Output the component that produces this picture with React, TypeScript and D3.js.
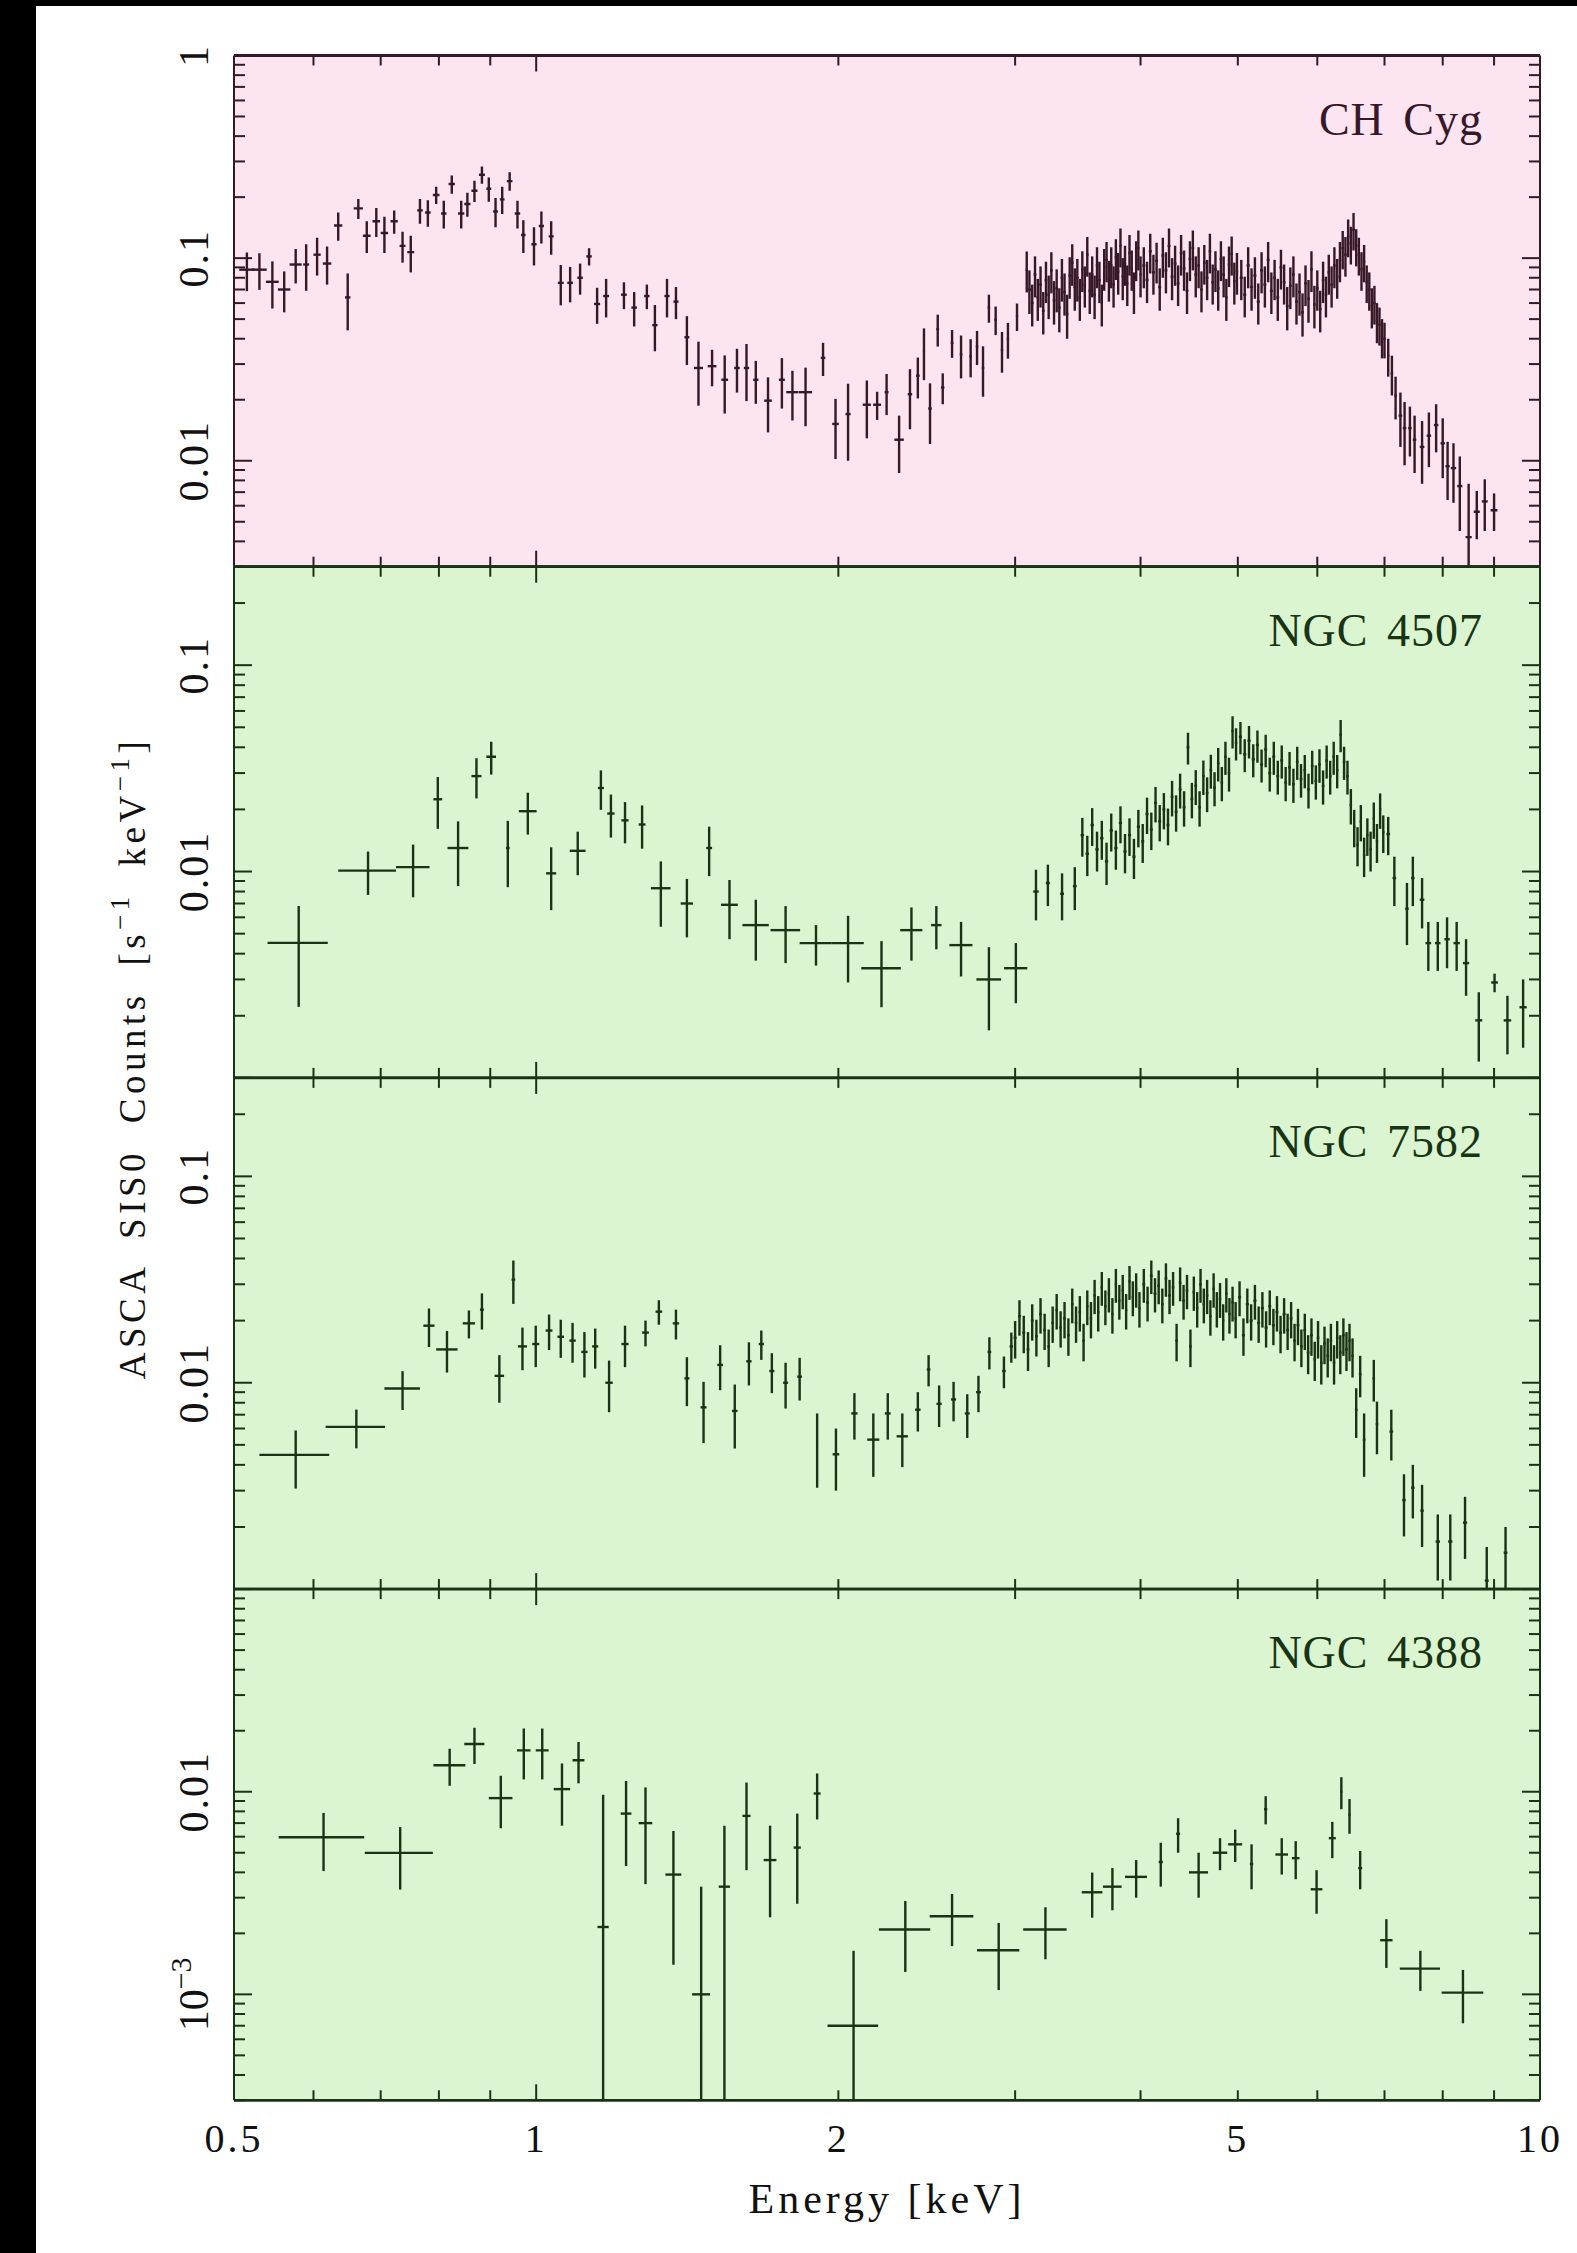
import React from 'react';
import * as d3 from 'd3';

// Each bin: [energy keV, half bin width keV, count rate s^-1 keV^-1, 1-sigma error]
type Bin = [number, number, number, number];

const chCyg: Bin[] = [
  [0.515, 0.009, 0.0877, 0.019], [0.530, 0.009, 0.0877, 0.018], [0.546, 0.008, 0.0764, 0.020],
  [0.561, 0.008, 0.0700, 0.016], [0.576, 0.008, 0.0930, 0.018], [0.590, 0.004, 0.0930, 0.024],
  [0.605, 0.005, 0.1040, 0.022], [0.619, 0.006, 0.0940, 0.020], [0.635, 0.006, 0.1450, 0.023],
  [0.649, 0.004, 0.0640, 0.020], [0.665, 0.007, 0.1760, 0.020], [0.678, 0.006, 0.1290, 0.023],
  [0.693, 0.006, 0.1520, 0.025], [0.706, 0.006, 0.1330, 0.027], [0.722, 0.006, 0.1520, 0.020],
  [0.736, 0.005, 0.1150, 0.020], [0.750, 0.006, 0.1070, 0.022], [0.766, 0.005, 0.1720, 0.024],
  [0.780, 0.005, 0.1680, 0.025], [0.795, 0.006, 0.2050, 0.020], [0.809, 0.005, 0.1660, 0.026],
  [0.824, 0.006, 0.2320, 0.024], [0.842, 0.006, 0.1660, 0.026], [0.854, 0.006, 0.1850, 0.025],
  [0.868, 0.006, 0.2150, 0.026], [0.883, 0.006, 0.2580, 0.025], [0.897, 0.005, 0.2200, 0.030],
  [0.911, 0.005, 0.1700, 0.028], [0.925, 0.005, 0.1950, 0.030], [0.941, 0.006, 0.2400, 0.025],
  [0.958, 0.006, 0.1660, 0.026], [0.971, 0.005, 0.1300, 0.024], [0.995, 0.006, 0.1170, 0.025],
  [1.012, 0.006, 0.1440, 0.026], [1.035, 0.006, 0.1280, 0.024], [1.058, 0.007, 0.0755, 0.017],
  [1.081, 0.007, 0.0755, 0.015], [1.106, 0.007, 0.0800, 0.014], [1.129, 0.007, 0.1020, 0.010],
  [1.150, 0.008, 0.0594, 0.012], [1.174, 0.008, 0.0650, 0.014], [1.223, 0.008, 0.0660, 0.010],
  [1.252, 0.008, 0.0570, 0.011], [1.289, 0.008, 0.0650, 0.009], [1.313, 0.008, 0.0467, 0.012],
  [1.350, 0.008, 0.0650, 0.014], [1.378, 0.008, 0.0610, 0.011], [1.413, 0.008, 0.0407, 0.011],
  [1.451, 0.015, 0.0287, 0.010], [1.497, 0.015, 0.0293, 0.006], [1.541, 0.012, 0.0251, 0.008],
  [1.585, 0.010, 0.0287, 0.007], [1.620, 0.010, 0.0287, 0.009], [1.655, 0.010, 0.0251, 0.006],
  [1.702, 0.015, 0.0198, 0.006], [1.757, 0.012, 0.0251, 0.007], [1.800, 0.025, 0.0218, 0.006],
  [1.855, 0.028, 0.0218, 0.007], [1.931, 0.010, 0.0322, 0.006], [1.987, 0.015, 0.0152, 0.005],
  [2.045, 0.012, 0.0170, 0.007], [2.135, 0.020, 0.0189, 0.006], [2.186, 0.020, 0.0189, 0.003],
  [2.234, 0.010, 0.0218, 0.005], [2.299, 0.025, 0.0127, 0.004], [2.357, 0.012, 0.0213, 0.007],
  [2.400, 0.010, 0.0263, 0.006], [2.434, 0.006, 0.0350, 0.010], [2.468, 0.010, 0.0181, 0.006],
  [2.512, 0.008, 0.0446, 0.008], [2.541, 0.010, 0.0230, 0.004], [2.596, 0.008, 0.0382, 0.006],
  [2.650, 0.008, 0.0335, 0.008], [2.709, 0.008, 0.0328, 0.007], [2.749, 0.008, 0.0367, 0.007],
  [2.787, 0.008, 0.0287, 0.008], [2.825, 0.008, 0.0570, 0.009], [2.869, 0.008, 0.0497, 0.008],
  [2.911, 0.008, 0.0352, 0.008], [2.951, 0.008, 0.0399, 0.008], [3.013, 0.008, 0.0517, 0.008],
  [3.081, 0.008, 0.0877, 0.020],
  [3.10, 0.010, 0.070, 0.017], [3.12, 0.010, 0.060, 0.014], [3.14, 0.010, 0.083, 0.019],
  [3.16, 0.010, 0.064, 0.015], [3.18, 0.010, 0.074, 0.017], [3.20, 0.010, 0.055, 0.013],
  [3.22, 0.010, 0.078, 0.018], [3.24, 0.010, 0.066, 0.016], [3.26, 0.010, 0.087, 0.020],
  [3.28, 0.010, 0.062, 0.015], [3.30, 0.010, 0.071, 0.017], [3.32, 0.010, 0.057, 0.014],
  [3.34, 0.010, 0.080, 0.019], [3.36, 0.010, 0.068, 0.016], [3.38, 0.010, 0.053, 0.013],
  [3.40, 0.010, 0.082, 0.019], [3.42, 0.010, 0.095, 0.022], [3.44, 0.010, 0.072, 0.017],
  [3.46, 0.010, 0.080, 0.019], [3.48, 0.010, 0.064, 0.015], [3.50, 0.010, 0.088, 0.020],
  [3.52, 0.010, 0.074, 0.017], [3.54, 0.010, 0.104, 0.023], [3.56, 0.010, 0.069, 0.016],
  [3.58, 0.010, 0.083, 0.019], [3.60, 0.010, 0.066, 0.016], [3.62, 0.010, 0.092, 0.021],
  [3.64, 0.010, 0.078, 0.018], [3.66, 0.010, 0.060, 0.014], [3.68, 0.010, 0.090, 0.021],
  [3.70, 0.010, 0.098, 0.022], [3.72, 0.010, 0.079, 0.018], [3.74, 0.010, 0.092, 0.021],
  [3.76, 0.010, 0.074, 0.017], [3.78, 0.010, 0.101, 0.023], [3.80, 0.010, 0.086, 0.020],
  [3.82, 0.010, 0.115, 0.025], [3.84, 0.010, 0.081, 0.019], [3.86, 0.010, 0.094, 0.021],
  [3.88, 0.010, 0.075, 0.017], [3.90, 0.010, 0.106, 0.024], [3.92, 0.010, 0.089, 0.020],
  [3.94, 0.010, 0.069, 0.016], [3.96, 0.010, 0.099, 0.022], [3.98, 0.010, 0.112, 0.025],
  [4.00, 0.010, 0.083, 0.019], [4.03, 0.014, 0.092, 0.021], [4.06, 0.014, 0.078, 0.018],
  [4.09, 0.014, 0.108, 0.024], [4.12, 0.014, 0.085, 0.019], [4.15, 0.014, 0.097, 0.022],
  [4.18, 0.014, 0.072, 0.017], [4.21, 0.014, 0.103, 0.023], [4.24, 0.014, 0.087, 0.020],
  [4.27, 0.014, 0.115, 0.025], [4.30, 0.014, 0.081, 0.019], [4.33, 0.014, 0.094, 0.021],
  [4.36, 0.014, 0.075, 0.017], [4.39, 0.014, 0.106, 0.024], [4.42, 0.014, 0.089, 0.020],
  [4.45, 0.014, 0.069, 0.016], [4.48, 0.014, 0.099, 0.022], [4.51, 0.014, 0.112, 0.025],
  [4.54, 0.014, 0.083, 0.019], [4.57, 0.014, 0.092, 0.021], [4.60, 0.014, 0.070, 0.016],
  [4.63, 0.014, 0.095, 0.021], [4.66, 0.014, 0.080, 0.018], [4.69, 0.014, 0.108, 0.024],
  [4.72, 0.014, 0.076, 0.017], [4.75, 0.014, 0.088, 0.020], [4.78, 0.014, 0.071, 0.016],
  [4.81, 0.014, 0.099, 0.022], [4.84, 0.014, 0.083, 0.019], [4.87, 0.014, 0.064, 0.015],
  [4.90, 0.014, 0.093, 0.021], [4.93, 0.014, 0.105, 0.023], [4.96, 0.014, 0.077, 0.018],
  [4.99, 0.014, 0.086, 0.020], [5.04, 0.018, 0.080, 0.018], [5.08, 0.018, 0.066, 0.015],
  [5.12, 0.018, 0.092, 0.021], [5.16, 0.018, 0.072, 0.017], [5.20, 0.018, 0.082, 0.019],
  [5.24, 0.018, 0.061, 0.014], [5.28, 0.018, 0.087, 0.020], [5.32, 0.018, 0.074, 0.017],
  [5.36, 0.018, 0.098, 0.022], [5.40, 0.018, 0.069, 0.016], [5.44, 0.018, 0.080, 0.018],
  [5.48, 0.018, 0.064, 0.015], [5.52, 0.018, 0.090, 0.020], [5.56, 0.018, 0.076, 0.017],
  [5.60, 0.018, 0.058, 0.014], [5.64, 0.018, 0.073, 0.017], [5.68, 0.018, 0.083, 0.019],
  [5.72, 0.018, 0.061, 0.014], [5.76, 0.018, 0.068, 0.016], [5.80, 0.018, 0.054, 0.013],
  [5.84, 0.018, 0.075, 0.017], [5.88, 0.018, 0.063, 0.015], [5.92, 0.018, 0.088, 0.020],
  [5.96, 0.018, 0.059, 0.014], [6.00, 0.018, 0.071, 0.016], [6.04, 0.018, 0.056, 0.013],
  [6.08, 0.018, 0.078, 0.018], [6.12, 0.018, 0.066, 0.015], [6.16, 0.018, 0.085, 0.019],
  [6.20, 0.018, 0.074, 0.017], [6.24, 0.018, 0.092, 0.021], [6.28, 0.018, 0.081, 0.018],
  [6.32, 0.018, 0.098, 0.022], [6.36, 0.018, 0.112, 0.024], [6.40, 0.018, 0.104, 0.023],
  [6.44, 0.018, 0.128, 0.027], [6.48, 0.018, 0.118, 0.025], [6.52, 0.018, 0.138, 0.029],
  [6.56, 0.018, 0.115, 0.024], [6.60, 0.018, 0.104, 0.022], [6.64, 0.018, 0.088, 0.019],
  [6.68, 0.018, 0.096, 0.020], [6.72, 0.018, 0.076, 0.016], [6.76, 0.018, 0.070, 0.015],
  [6.80, 0.018, 0.058, 0.013], [6.84, 0.018, 0.060, 0.013], [6.88, 0.018, 0.049, 0.011],
  [6.92, 0.018, 0.047, 0.010], [6.96, 0.018, 0.041, 0.009],
  [7.00, 0.020, 0.0400, 0.008], [7.06, 0.020, 0.0330, 0.007], [7.12, 0.020, 0.0270, 0.006],
  [7.18, 0.020, 0.0210, 0.005], [7.26, 0.030, 0.0167, 0.005], [7.33, 0.030, 0.0145, 0.005],
  [7.42, 0.030, 0.0145, 0.004], [7.50, 0.030, 0.0127, 0.004], [7.63, 0.040, 0.0117, 0.004],
  [7.75, 0.040, 0.0133, 0.004], [7.88, 0.040, 0.0150, 0.004], [8.00, 0.040, 0.0122, 0.004],
  [8.09, 0.040, 0.0094, 0.003], [8.20, 0.050, 0.0092, 0.003], [8.32, 0.050, 0.0075, 0.003],
  [8.49, 0.060, 0.0042, 0.0035], [8.65, 0.060, 0.0056, 0.0015], [8.81, 0.060, 0.0063, 0.0018],
  [9.00, 0.070, 0.0057, 0.0012],
];

const ngc4507: Bin[] = [
  [0.580, 0.040, 0.00451, 0.0023], [0.680, 0.045, 0.0101, 0.0024], [0.754, 0.029, 0.0105, 0.0030],
  [0.798, 0.008, 0.0224, 0.0063], [0.836, 0.020, 0.0130, 0.0045], [0.872, 0.010, 0.0290, 0.0064],
  [0.902, 0.010, 0.0360, 0.0065], [0.937, 0.004, 0.0130, 0.0046], [0.981, 0.020, 0.0196, 0.0045],
  [1.035, 0.012, 0.0098, 0.0033], [1.100, 0.020, 0.0126, 0.0030], [1.160, 0.008, 0.0254, 0.0055],
  [1.187, 0.010, 0.0191, 0.0045], [1.226, 0.010, 0.0177, 0.0040], [1.275, 0.010, 0.0169, 0.0040],
  [1.331, 0.030, 0.0083, 0.0029], [1.413, 0.020, 0.0070, 0.0022], [1.487, 0.010, 0.0130, 0.0035],
  [1.558, 0.030, 0.0069, 0.0022], [1.655, 0.050, 0.0055, 0.0018], [1.772, 0.060, 0.0052, 0.0016],
  [1.900, 0.070, 0.0045, 0.0010], [2.045, 0.075, 0.0045, 0.0016], [2.208, 0.100, 0.0034, 0.0012],
  [2.365, 0.060, 0.0052, 0.0015], [2.504, 0.030, 0.0055, 0.0013], [2.650, 0.070, 0.0044, 0.0013],
  [2.825, 0.080, 0.0030, 0.0013], [3.005, 0.080, 0.0034, 0.0011], [3.147, 0.020, 0.0080, 0.0022],
  [3.234, 0.015, 0.0088, 0.0020], [3.341, 0.015, 0.0078, 0.0020], [3.440, 0.015, 0.0085, 0.0020],
  [3.50, 0.014, 0.0150, 0.0032], [3.54, 0.014, 0.0122, 0.0027], [3.58, 0.014, 0.0168, 0.0035],
  [3.62, 0.014, 0.0128, 0.0028], [3.66, 0.014, 0.0145, 0.0031], [3.70, 0.014, 0.0112, 0.0026],
  [3.74, 0.014, 0.0158, 0.0033], [3.78, 0.014, 0.0130, 0.0028], [3.82, 0.014, 0.0172, 0.0035],
  [3.86, 0.014, 0.0125, 0.0027], [3.90, 0.014, 0.0150, 0.0031], [3.94, 0.014, 0.0118, 0.0026],
  [3.98, 0.014, 0.0165, 0.0034], [4.02, 0.014, 0.0140, 0.0030], [4.06, 0.014, 0.0190, 0.0038],
  [4.10, 0.014, 0.0160, 0.0033], [4.14, 0.014, 0.0215, 0.0042], [4.18, 0.014, 0.0175, 0.0035],
  [4.22, 0.014, 0.0200, 0.0040], [4.26, 0.014, 0.0168, 0.0034], [4.30, 0.014, 0.0230, 0.0045],
  [4.34, 0.014, 0.0195, 0.0039], [4.38, 0.014, 0.0250, 0.0048], [4.42, 0.014, 0.0205, 0.0040],
  [4.46, 0.014, 0.0400, 0.0070], [4.50, 0.014, 0.0225, 0.0044], [4.54, 0.014, 0.0260, 0.0050],
  [4.58, 0.014, 0.0205, 0.0040], [4.62, 0.014, 0.0290, 0.0055], [4.66, 0.014, 0.0240, 0.0046],
  [4.70, 0.014, 0.0310, 0.0058], [4.74, 0.014, 0.0255, 0.0048], [4.78, 0.014, 0.0335, 0.0062],
  [4.82, 0.014, 0.0270, 0.0051], [4.86, 0.014, 0.0360, 0.0066], [4.90, 0.014, 0.0300, 0.0056],
  [4.94, 0.014, 0.0480, 0.0085], [4.98, 0.014, 0.0420, 0.0075], [5.03, 0.018, 0.0450, 0.0080],
  [5.08, 0.018, 0.0370, 0.0067], [5.13, 0.018, 0.0430, 0.0077], [5.18, 0.018, 0.0350, 0.0064],
  [5.23, 0.018, 0.0410, 0.0073], [5.28, 0.018, 0.0330, 0.0060], [5.33, 0.018, 0.0390, 0.0070],
  [5.38, 0.018, 0.0300, 0.0056], [5.43, 0.018, 0.0360, 0.0066], [5.48, 0.018, 0.0290, 0.0054],
  [5.53, 0.018, 0.0345, 0.0063], [5.58, 0.018, 0.0270, 0.0051], [5.63, 0.018, 0.0320, 0.0059],
  [5.68, 0.018, 0.0265, 0.0050], [5.73, 0.018, 0.0340, 0.0062], [5.78, 0.018, 0.0280, 0.0052],
  [5.83, 0.018, 0.0310, 0.0057], [5.88, 0.018, 0.0250, 0.0048], [5.93, 0.018, 0.0325, 0.0060],
  [5.98, 0.018, 0.0275, 0.0052], [6.03, 0.018, 0.0330, 0.0061], [6.08, 0.018, 0.0260, 0.0049],
  [6.13, 0.018, 0.0345, 0.0063], [6.18, 0.018, 0.0290, 0.0054], [6.23, 0.018, 0.0360, 0.0066],
  [6.28, 0.018, 0.0310, 0.0057], [6.33, 0.018, 0.0460, 0.0082], [6.38, 0.018, 0.0340, 0.0062],
  [6.43, 0.018, 0.0290, 0.0054], [6.48, 0.018, 0.0210, 0.0041], [6.53, 0.018, 0.0165, 0.0034],
  [6.58, 0.018, 0.0135, 0.0029], [6.63, 0.018, 0.0175, 0.0035], [6.68, 0.018, 0.0120, 0.0026],
  [6.73, 0.018, 0.0150, 0.0031], [6.78, 0.018, 0.0128, 0.0028], [6.83, 0.018, 0.0180, 0.0036],
  [6.88, 0.018, 0.0140, 0.0030], [6.93, 0.018, 0.0200, 0.0039], [6.98, 0.018, 0.0155, 0.0032],
  [7.06, 0.030, 0.0152, 0.0032], [7.16, 0.030, 0.0093, 0.0025], [7.37, 0.030, 0.0066, 0.0022],
  [7.47, 0.030, 0.0093, 0.0025], [7.63, 0.040, 0.0073, 0.0020], [7.74, 0.050, 0.0045, 0.0012],
  [7.91, 0.050, 0.0045, 0.0012], [8.08, 0.050, 0.0047, 0.0013], [8.26, 0.060, 0.0045, 0.0012],
  [8.44, 0.060, 0.0036, 0.0011], [8.69, 0.070, 0.0019, 0.0007], [9.01, 0.070, 0.0029, 0.0003],
  [9.28, 0.080, 0.0019, 0.0006], [9.62, 0.080, 0.0022, 0.0008],
];

const ngc7582: Bin[] = [
  [0.576, 0.046, 0.00447, 0.0014], [0.662, 0.045, 0.00611, 0.0013], [0.736, 0.030, 0.00938, 0.0020],
  [0.782, 0.010, 0.0189, 0.0040], [0.815, 0.020, 0.0145, 0.0033], [0.857, 0.012, 0.0194, 0.0030],
  [0.883, 0.004, 0.0226, 0.0045], [0.919, 0.010, 0.0108, 0.0028], [0.949, 0.004, 0.0316, 0.0075],
  [0.969, 0.010, 0.0150, 0.0035], [0.999, 0.008, 0.0154, 0.0035], [1.030, 0.008, 0.0179, 0.0035],
  [1.058, 0.008, 0.0167, 0.0035], [1.087, 0.008, 0.0160, 0.0035], [1.117, 0.008, 0.0141, 0.0035],
  [1.145, 0.008, 0.0150, 0.0033], [1.182, 0.010, 0.0100, 0.0028], [1.226, 0.010, 0.0154, 0.0035],
  [1.285, 0.010, 0.0175, 0.0025], [1.325, 0.010, 0.0221, 0.0030], [1.378, 0.010, 0.0194, 0.0032],
  [1.413, 0.008, 0.0105, 0.0028], [1.468, 0.010, 0.0076, 0.0025], [1.525, 0.010, 0.0122, 0.0030],
  [1.577, 0.010, 0.0073, 0.0025], [1.629, 0.010, 0.0127, 0.0030], [1.676, 0.010, 0.0154, 0.0025],
  [1.717, 0.010, 0.0114, 0.0025], [1.772, 0.010, 0.0100, 0.0025], [1.830, 0.010, 0.0107, 0.0025],
  [1.905, 0.004, 0.0051, 0.0020], [1.989, 0.015, 0.0045, 0.0015], [2.075, 0.015, 0.0071, 0.0018],
  [2.167, 0.030, 0.0053, 0.0018], [2.240, 0.015, 0.0071, 0.0018], [2.316, 0.030, 0.0055, 0.0016],
  [2.400, 0.015, 0.0074, 0.0016], [2.460, 0.010, 0.0116, 0.0020], [2.520, 0.015, 0.0079, 0.0018],
  [2.605, 0.015, 0.0083, 0.0018], [2.688, 0.015, 0.0071, 0.0017], [2.758, 0.015, 0.0090, 0.0018],
  [2.828, 0.012, 0.0141, 0.0025], [2.924, 0.012, 0.0114, 0.0020], [2.974, 0.012, 0.0150, 0.0025],
  [3.00, 0.010, 0.0165, 0.0034], [3.03, 0.010, 0.0210, 0.0041], [3.06, 0.010, 0.0175, 0.0036],
  [3.09, 0.010, 0.0145, 0.0031], [3.12, 0.010, 0.0200, 0.0040], [3.15, 0.010, 0.0168, 0.0034],
  [3.18, 0.010, 0.0215, 0.0042], [3.21, 0.010, 0.0180, 0.0036], [3.24, 0.010, 0.0150, 0.0031],
  [3.27, 0.010, 0.0195, 0.0039], [3.30, 0.010, 0.0225, 0.0044], [3.33, 0.010, 0.0185, 0.0037],
  [3.36, 0.010, 0.0205, 0.0041], [3.39, 0.010, 0.0170, 0.0035], [3.42, 0.010, 0.0240, 0.0046],
  [3.45, 0.010, 0.0195, 0.0039], [3.48, 0.010, 0.0220, 0.0043], [3.51, 0.010, 0.0160, 0.0033],
  [3.54, 0.010, 0.0235, 0.0045], [3.57, 0.010, 0.0205, 0.0041], [3.60, 0.010, 0.0265, 0.0050],
  [3.63, 0.010, 0.0220, 0.0043], [3.66, 0.010, 0.0290, 0.0054], [3.69, 0.010, 0.0235, 0.0045],
  [3.72, 0.010, 0.0270, 0.0051], [3.75, 0.010, 0.0215, 0.0042], [3.78, 0.010, 0.0300, 0.0056],
  [3.81, 0.010, 0.0250, 0.0048], [3.84, 0.010, 0.0280, 0.0053], [3.87, 0.010, 0.0225, 0.0044],
  [3.90, 0.010, 0.0310, 0.0058], [3.93, 0.010, 0.0260, 0.0050], [3.96, 0.010, 0.0285, 0.0054],
  [3.99, 0.010, 0.0230, 0.0045], [4.030, 0.013, 0.0300, 0.0056], [4.065, 0.013, 0.0245, 0.0047],
  [4.100, 0.013, 0.0330, 0.0061], [4.135, 0.013, 0.0270, 0.0051], [4.170, 0.013, 0.0295, 0.0055],
  [4.205, 0.013, 0.0240, 0.0046], [4.240, 0.013, 0.0320, 0.0059], [4.275, 0.013, 0.0265, 0.0050],
  [4.310, 0.013, 0.0290, 0.0054], [4.345, 0.013, 0.0160, 0.0033], [4.380, 0.013, 0.0305, 0.0057],
  [4.415, 0.013, 0.0250, 0.0048], [4.450, 0.013, 0.0280, 0.0053], [4.485, 0.013, 0.0150, 0.0031],
  [4.520, 0.013, 0.0275, 0.0052], [4.555, 0.013, 0.0230, 0.0045], [4.590, 0.013, 0.0300, 0.0056],
  [4.625, 0.013, 0.0240, 0.0046], [4.660, 0.013, 0.0265, 0.0050], [4.695, 0.013, 0.0210, 0.0041],
  [4.730, 0.013, 0.0285, 0.0054], [4.765, 0.013, 0.0230, 0.0045], [4.800, 0.013, 0.0255, 0.0049],
  [4.835, 0.013, 0.0200, 0.0040], [4.870, 0.013, 0.0270, 0.0051], [4.905, 0.013, 0.0215, 0.0042],
  [4.940, 0.013, 0.0245, 0.0047], [4.975, 0.013, 0.0205, 0.0041], [5.020, 0.018, 0.0260, 0.0050],
  [5.065, 0.018, 0.0170, 0.0035], [5.110, 0.018, 0.0240, 0.0046], [5.155, 0.018, 0.0200, 0.0040],
  [5.200, 0.018, 0.0250, 0.0048], [5.245, 0.018, 0.0195, 0.0039], [5.290, 0.018, 0.0230, 0.0045],
  [5.335, 0.018, 0.0185, 0.0037], [5.380, 0.018, 0.0235, 0.0045], [5.425, 0.018, 0.0190, 0.0038],
  [5.470, 0.018, 0.0220, 0.0043], [5.515, 0.018, 0.0175, 0.0036], [5.560, 0.018, 0.0215, 0.0042],
  [5.605, 0.018, 0.0180, 0.0036], [5.650, 0.018, 0.0205, 0.0041], [5.695, 0.018, 0.0160, 0.0033],
  [5.740, 0.018, 0.0190, 0.0038], [5.785, 0.018, 0.0150, 0.0031], [5.830, 0.018, 0.0180, 0.0036],
  [5.875, 0.018, 0.0140, 0.0030], [5.920, 0.018, 0.0170, 0.0035], [5.965, 0.018, 0.0130, 0.0028],
  [6.010, 0.018, 0.0165, 0.0034], [6.055, 0.018, 0.0125, 0.0027], [6.100, 0.018, 0.0155, 0.0032],
  [6.145, 0.018, 0.0135, 0.0029], [6.190, 0.018, 0.0160, 0.0033], [6.235, 0.018, 0.0125, 0.0027],
  [6.280, 0.018, 0.0165, 0.0034], [6.325, 0.018, 0.0140, 0.0030], [6.370, 0.018, 0.0170, 0.0035],
  [6.415, 0.018, 0.0145, 0.0031], [6.460, 0.018, 0.0160, 0.0033], [6.505, 0.018, 0.0135, 0.0029],
  [6.56, 0.020, 0.0074, 0.0020], [6.62, 0.020, 0.0110, 0.0025], [6.68, 0.020, 0.0053, 0.0018],
  [6.83, 0.020, 0.0105, 0.0024], [6.88, 0.020, 0.0063, 0.0018], [7.11, 0.030, 0.0058, 0.0016],
  [7.32, 0.030, 0.0027, 0.0009], [7.47, 0.030, 0.0031, 0.0009], [7.63, 0.030, 0.0024, 0.0008],
  [7.91, 0.040, 0.0017, 0.0006], [8.14, 0.040, 0.0017, 0.0006], [8.42, 0.040, 0.0021, 0.0007],
  [8.85, 0.040, 0.0011, 0.0005], [9.24, 0.040, 0.0015, 0.0005],
];

const ngc4388: Bin[] = [
  [0.614, 0.060, 0.00596, 0.0019], [0.732, 0.057, 0.00499, 0.0017], [0.820, 0.030, 0.0135, 0.0028],
  [0.868, 0.020, 0.0172, 0.0035], [0.922, 0.025, 0.0093, 0.0027], [0.972, 0.015, 0.0160, 0.0045],
  [1.014, 0.015, 0.0160, 0.0045], [1.061, 0.020, 0.0103, 0.0035], [1.102, 0.015, 0.0143, 0.0033],
  [1.166, 0.015, 0.00215, 0.0075], [1.229, 0.015, 0.0078, 0.0035], [1.285, 0.020, 0.0070, 0.0035],
  [1.370, 0.025, 0.0039, 0.0025], [1.460, 0.030, 0.0010, 0.0024], [1.540, 0.020, 0.0034, 0.0034],
  [1.620, 0.015, 0.0076, 0.0035], [1.710, 0.025, 0.0046, 0.0022], [1.820, 0.015, 0.0053, 0.0025],
  [1.905, 0.015, 0.0098, 0.0025], [2.071, 0.120, 0.0007, 0.00094], [2.332, 0.137, 0.00209, 0.0008],
  [2.596, 0.130, 0.00243, 0.0007], [2.889, 0.140, 0.00165, 0.0006], [3.216, 0.160, 0.00209, 0.0006],
  [3.580, 0.085, 0.00319, 0.0008], [3.750, 0.080, 0.0034, 0.0008], [3.960, 0.100, 0.0038, 0.0008],
  [4.190, 0.020, 0.0045, 0.0011], [4.360, 0.020, 0.0062, 0.0012], [4.570, 0.100, 0.0040, 0.0010],
  [4.800, 0.080, 0.0050, 0.0009], [4.970, 0.080, 0.0055, 0.0010], [5.160, 0.020, 0.0044, 0.0011],
  [5.330, 0.020, 0.0082, 0.0013], [5.530, 0.080, 0.0049, 0.0010], [5.710, 0.050, 0.0047, 0.0010],
  [5.990, 0.080, 0.0033, 0.0008], [6.210, 0.050, 0.0059, 0.0012], [6.340, 0.015, 0.0100, 0.0018],
  [6.460, 0.015, 0.0077, 0.0015], [6.620, 0.030, 0.0042, 0.0009], [7.030, 0.100, 0.00185, 0.0005],
  [7.600, 0.350, 0.00134, 0.0003], [8.380, 0.400, 0.00102, 0.0003],
];

const spectra: Bin[][] = [chCyg, ngc4507, ngc7582, ngc4388];
const sourceNames = ['CH Cyg', 'NGC 4507', 'NGC 7582', 'NGC 4388'];
const rateRanges: [number, number][] = [[0.003, 1], [0.001, 0.3], [0.001, 0.3], [0.0003, 0.1]];
const rateTickLabels: number[][] = [[1, 0.1, 0.01], [0.1, 0.01], [0.1, 0.01], [0.01, 0.001]];
const energyRange: [number, number] = [0.5, 10];
const energyTickLabels = [0.5, 1, 2, 5, 10];

const W = 1577;
const H = 2253;
const LEFT = 234;
const RIGHT = 1540;
const TOP = 55.5;
const PANEL_H = 511.2;
const BG = ['#fce4f1', '#dbf5d1', '#dbf5d1', '#dbf5d1'];
const INK = ['#361828', '#183414', '#183414', '#183414'];
const FONT = "'Liberation Serif', 'Times New Roman', serif";

const isDecade = (v: number) => Math.abs(Math.log10(v) - Math.round(Math.log10(v))) < 1e-6;

function RateLabel({ v, y }: { v: number; y: number }) {
  const exp = Math.round(Math.log10(v));
  const t = `translate(208,${y}) rotate(-90)`;
  if (exp <= -3) {
    return (
      <text transform={t} textAnchor="middle" fontSize={42}>
        10<tspan dy={-17} fontSize={30}>{`\u2212${-exp}`}</tspan>
      </text>
    );
  }
  return (
    <text transform={t} textAnchor="middle" fontSize={42} letterSpacing={2}>
      {String(v)}
    </text>
  );
}

function Panel({ index, x }: { index: number; x: d3.ScaleLogarithmic<number, number> }) {
  const top = TOP + index * PANEL_H;
  const bottom = top + PANEL_H;
  const [lo, hi] = rateRanges[index];
  const y = d3.scaleLog().domain([lo, hi]).range([bottom, top]);
  const ink = INK[index];
  const yTicks = y.ticks(20).filter((v) => v >= lo * 0.999 && v <= hi * 1.001);
  const xTicks = x.ticks(20).filter((v) => v > energyRange[0] * 1.001 && v < energyRange[1] * 0.999);
  const clipId = `clip-${index}`;

  return (
    <g>
      <defs>
        <clipPath id={clipId}>
          <rect x={LEFT} y={top} width={RIGHT - LEFT} height={PANEL_H} />
        </clipPath>
      </defs>
      <rect x={LEFT} y={top} width={RIGHT - LEFT} height={PANEL_H} fill={BG[index]} />
      <g clipPath={`url(#${clipId})`} stroke={ink} strokeWidth={2.4} fill="none">
        {spectra[index].map(([e, de, v, dv], k) => {
          const yc = y(v);
          const yHi = y(v + dv);
          const yLo = v - dv > 0 ? y(v - dv) : bottom + 10;
          return (
            <g key={k}>
              <line x1={x(e - de)} x2={x(e + de)} y1={yc} y2={yc} />
              <line x1={x(e)} x2={x(e)} y1={yHi} y2={yLo} />
            </g>
          );
        })}
      </g>
      <g stroke={ink} strokeWidth={2}>
        {yTicks.map((v, k) => {
          const len = isDecade(v) ? 18 : 11;
          const yy = y(v);
          return (
            <g key={k}>
              <line x1={LEFT} x2={LEFT + len} y1={yy} y2={yy} />
              <line x1={RIGHT} x2={RIGHT - len} y1={yy} y2={yy} />
            </g>
          );
        })}
        {xTicks.map((v, k) => {
          const len = isDecade(v) ? 16 : 10;
          const xx = x(v);
          return (
            <g key={k}>
              <line x1={xx} x2={xx} y1={top} y2={top + len} />
              <line x1={xx} x2={xx} y1={bottom} y2={bottom - len} />
            </g>
          );
        })}
        <line x1={LEFT} x2={LEFT} y1={top} y2={bottom} />
        <line x1={RIGHT} x2={RIGHT} y1={top} y2={bottom} />
        <line x1={LEFT} x2={RIGHT} y1={top} y2={top} strokeWidth={2.8} />
        <line x1={LEFT} x2={RIGHT} y1={bottom} y2={bottom} strokeWidth={2.8} />
      </g>
      <text x={1483} y={top + 79} textAnchor="end" fontSize={46} fill={ink} letterSpacing={1} wordSpacing={6}>
        {sourceNames[index]}
      </text>
      <g fill="#111">
        {rateTickLabels[index].map((v, k) => (
          <RateLabel key={k} v={v} y={y(v)} />
        ))}
      </g>
    </g>
  );
}

export default function App() {
  const x = d3.scaleLog().domain(energyRange).range([LEFT, RIGHT]);
  const lastBottom = TOP + 4 * PANEL_H;
  return (
    <svg
      width={W}
      height={H}
      viewBox={`0 0 ${W} ${H}`}
      style={{ position: 'absolute', left: 0, top: 0, background: '#ffffff' }}
      fontFamily={FONT}
    >
      <rect x={0} y={0} width={W} height={H} fill="#ffffff" />
      <rect x={0} y={0} width={36} height={H} fill="#000000" />
      <rect x={0} y={0} width={W} height={6} fill="#000000" />
      {spectra.map((_, i) => (
        <Panel key={i} index={i} x={x} />
      ))}
      <g fill="#111" fontSize={40} textAnchor="middle" letterSpacing={3}>
        {energyTickLabels.map((v, k) => (
          <text key={k} x={x(v)} y={lastBottom + 52}>
            {String(v)}
          </text>
        ))}
      </g>
      <text x={(LEFT + RIGHT) / 2} y={lastBottom + 113} textAnchor="middle" fontSize={42} letterSpacing={4} fill="#111">
        Energy [keV]
      </text>
      <text
        transform={`translate(145,1058) rotate(-90)`}
        textAnchor="middle"
        fontSize={37}
        letterSpacing={4.5}
        wordSpacing={12}
        fill="#111"
      >
        ASCA SIS0 Counts [s<tspan dy={-16} fontSize={27}>{'\u22121'}</tspan>
        <tspan dy={16}> keV</tspan>
        <tspan dy={-16} fontSize={27}>{'\u22121'}</tspan>
        <tspan dy={16}>]</tspan>
      </text>
    </svg>
  );
}
